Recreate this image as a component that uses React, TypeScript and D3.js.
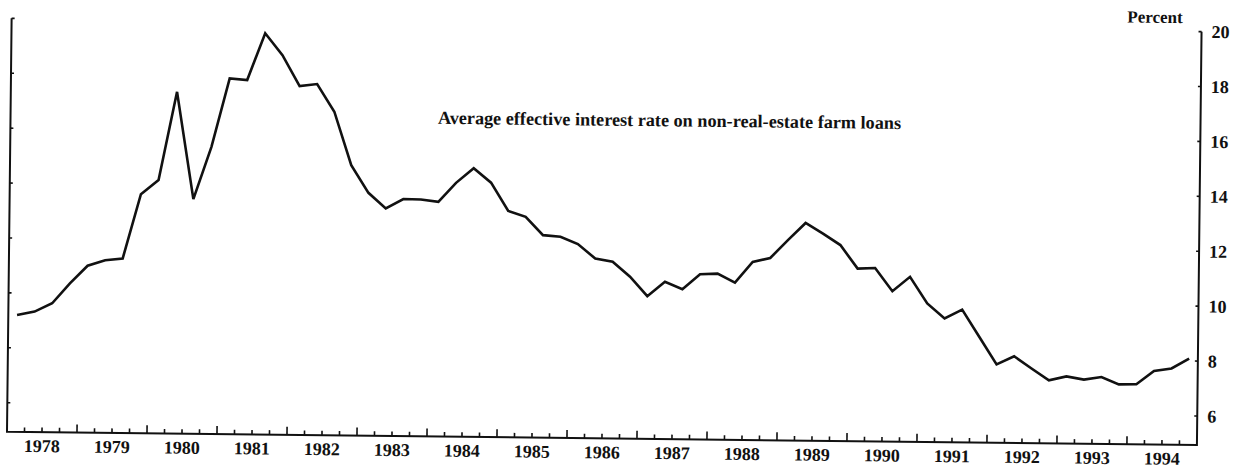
import * as d3 from 'd3';

// quarterly average effective rate, 1978 Q1 .. 1994 Q4 (percent)
const rates = [
  9.2, 9.33, 9.64, 10.37, 11.02, 11.23, 11.3, 13.65,
  14.17, 17.39, 13.49, 15.4, 17.9, 17.85, 19.56, 18.77,
  17.65, 17.73, 16.73, 14.79, 13.79, 13.23, 13.58, 13.57,
  13.49, 14.19, 14.73, 14.21, 13.19, 12.98, 12.32, 12.27,
  12.01, 11.49, 11.38, 10.84, 10.14, 10.67, 10.41, 10.96,
  10.99, 10.67, 11.43, 11.58, 12.24, 12.87, 12.49, 12.08,
  11.23, 11.26, 10.42, 10.95, 9.99, 9.45, 9.78, 8.79,
  7.8, 8.1, 7.66, 7.24, 7.39, 7.28, 7.38, 7.12,
  7.13, 7.62, 7.72, 8.09,
];

const years = [
  1978, 1979, 1980, 1981, 1982, 1983, 1984, 1985, 1986,
  1987, 1988, 1989, 1990, 1991, 1992, 1993, 1994,
];

const yTicks = [6, 8, 10, 12, 14, 16, 18, 20];

const title = 'Average effective interest rate on non-real-estate farm loans';
const unitLabel = 'Percent';

const W = 1241;
const H = 471;
const left = 7;
const right = 1197;
const bottom = 431.7;
const font = '"Liberation Serif", "Times New Roman", serif';

const App = () => {
  const x = d3.scaleLinear().domain([years[0], years[years.length - 1] + 1]).range([left, right]);
  const y = d3.scaleLinear().domain([6, 20]).range([402.7, 18.3]);

  const line = d3.line<number>()
    .x((_: number, i: number) => x(years[0] + i * 0.25 + 0.125))
    .y((d: number) => y(d));

  const quarters = d3.range(1, years.length * 4);

  return (
    <svg
      width={W}
      height={H}
      style={{ position: 'absolute', left: 0, top: 0, background: '#fff' }}
    >
      {/* the scanned original is tilted slightly clockwise */}
      <g transform={`rotate(0.64, ${left}, ${bottom})`} fontFamily={font} fontWeight="bold" fill="#111">
        <path
          d={`M${left},${y(20)}V${bottom}H${right}V${y(20)}`}
          fill="none"
          stroke="#111"
          strokeWidth={2}
        />
        {yTicks.map((t) => (
          <g key={t}>
            <line x1={left} x2={left + 3} y1={y(t)} y2={y(t)} stroke="#111" strokeWidth={1.6} />
            <line x1={right} x2={right - 3} y1={y(t)} y2={y(t)} stroke="#111" strokeWidth={1.6} />
            <text x={right + 10} y={y(t)} dy="0.35em" fontSize={18}>
              {t}
            </text>
          </g>
        ))}
        {quarters.map((k) => (
          <line
            key={k}
            x1={x(years[0] + k / 4)}
            x2={x(years[0] + k / 4)}
            y1={bottom}
            y2={bottom - (k % 4 === 0 ? 8 : 4.5)}
            stroke="#111"
            strokeWidth={1.6}
          />
        ))}
        {years.map((yr) => (
          <text key={yr} x={x(yr + 0.5)} y={bottom + 20} textAnchor="middle" fontSize={18}>
            {yr}
          </text>
        ))}

        <text x={1178} y={10} textAnchor="end" fontSize={17}>
          {unitLabel}
        </text>
        <text x={666} y={119} textAnchor="middle" fontSize={18.2}>
          {title}
        </text>

        <path d={line(rates) || ''} fill="none" stroke="#111" strokeWidth={2.6} strokeLinejoin="miter" />
      </g>
    </svg>
  );
};

export default App;
